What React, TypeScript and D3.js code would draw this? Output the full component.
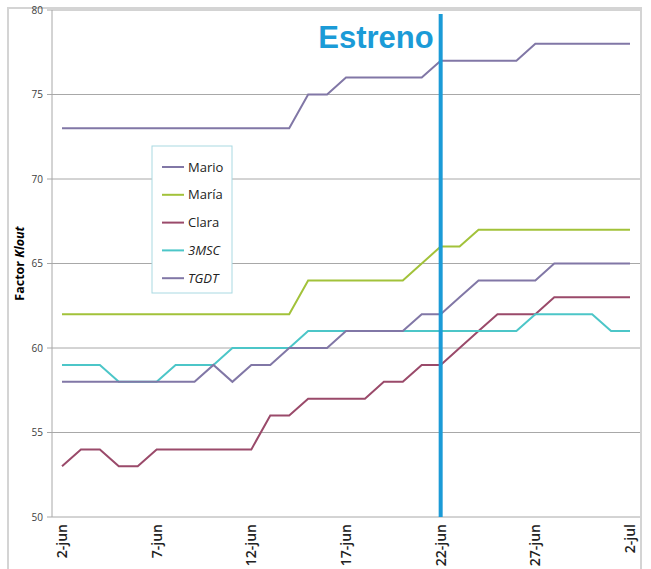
import React from "react";
import * as d3 from "d3";

const days = d3.range(0, 31);
const tickDays = [0, 5, 10, 15, 20, 25, 30];
const tickLabels = ["2-jun", "7-jun", "12-jun", "17-jun", "22-jun", "27-jun", "2-jul"];
const yTicks = [50, 55, 60, 65, 70, 75, 80];

const mario = [73,73,73,73,73,73,73,73,73,73,73,73,73,75,75,76,76,76,76,76,77,77,77,77,77,78,78,78,78,78,78];
const maria = [62,62,62,62,62,62,62,62,62,62,62,62,62,64,64,64,64,64,64,65,66,66,67,67,67,67,67,67,67,67,67];
const clara = [53,54,54,53,53,54,54,54,54,54,54,56,56,57,57,57,57,58,58,59,59,60,61,62,62,62,63,63,63,63,63];
const msc = [59,59,59,58,58,58,59,59,59,60,60,60,60,61,61,61,61,61,61,61,61,61,61,61,61,62,62,62,62,61,61];
const tgdt = [58,58,58,58,58,58,58,58,59,58,59,59,60,60,60,61,61,61,61,62,62,63,64,64,64,64,65,65,65,65,65];

const seriesNames = ["Mario", "María", "Clara", "3MSC", "TGDT"];
const seriesData = [mario, maria, clara, msc, tgdt];
const seriesColors = ["#8177a6", "#a2c23a", "#9a4a6a", "#4cc6c8", "#8177a6"];
const seriesItalic = [false, false, false, true, true];

const estrenoDay = 20;

export default function App() {
  const W = 651, H = 569;
  const x = d3.scaleLinear().domain([0, 30]).range([62, 630]);
  const y = d3.scaleLinear().domain([50, 80]).range([517, 10]);
  const line = d3.line<number>().x((_, i) => x(days[i])).y((v) => y(v));

  return (
    <svg width={W} height={H} style={{ position: "absolute", left: 0, top: 0, background: "#fff" }}
      fontFamily="'Open Sans', 'DejaVu Sans', sans-serif">
      <rect x={8} y={8} width={633} height={570} fill="#fff" stroke="#d4d4d4" strokeWidth={2} />
      {yTicks.map((t) => (
        <g key={t}>
          {t > 50 && <line x1={52} x2={640} y1={y(t)} y2={y(t)} stroke="#a8a8a8" strokeWidth={1} />}
          <line x1={47} x2={52} y1={y(t)} y2={y(t)} stroke="#a8a8a8" strokeWidth={1} />
          <text x={43} y={y(t)} dy="0.35em" textAnchor="end" fontSize={10} fill="#404040">{t}</text>
        </g>
      ))}
      <line x1={52} x2={52} y1={y(80)} y2={y(50)} stroke="#a8a8a8" strokeWidth={1} />
      <line x1={52} x2={640} y1={y(50)} y2={y(50)} stroke="#a8a8a8" strokeWidth={1} />
      {tickDays.map((d, i) => (
        <text key={d} transform={`translate(${x(d) + 5},524) rotate(-90)`} textAnchor="end"
          fontSize={14} fontWeight={600} fill="#222">{tickLabels[i]}</text>
      ))}
      <text transform={`translate(24,${(y(50) + y(80)) / 2}) rotate(-90)`} textAnchor="middle"
        fontSize={12.5} fontWeight="bold" fill="#000">
        Factor <tspan fontStyle="italic">Klout</tspan>
      </text>
      {seriesData.map((s, i) => (
        <path key={seriesNames[i]} d={line(s) || ""} fill="none" stroke={seriesColors[i]} strokeWidth={2} />
      ))}
      <line x1={x(estrenoDay)} x2={x(estrenoDay)} y1={14} y2={y(50)} stroke="#1b9bd7" strokeWidth={4} />
      <text x={x(estrenoDay) - 7} y={48} textAnchor="end" fontSize={31} fontWeight="bold" fill="#1b9bd7"
        fontFamily="'Liberation Sans', Arial, sans-serif">Estreno</text>
      <g>
        <rect x={152} y={146} width={80} height={147} fill="#fff" stroke="#a9d9e2" strokeWidth={1} />
        {seriesNames.map((n, i) => {
          const ly = 167 + i * 27.8;
          return (
            <g key={n}>
              <line x1={162} x2={184} y1={ly} y2={ly} stroke={seriesColors[i]} strokeWidth={2} />
              <text x={188} y={ly} dy="0.35em" fontSize={13} fill="#222"
                fontStyle={seriesItalic[i] ? "italic" : "normal"}>{n}</text>
            </g>
          );
        })}
      </g>
    </svg>
  );
}
